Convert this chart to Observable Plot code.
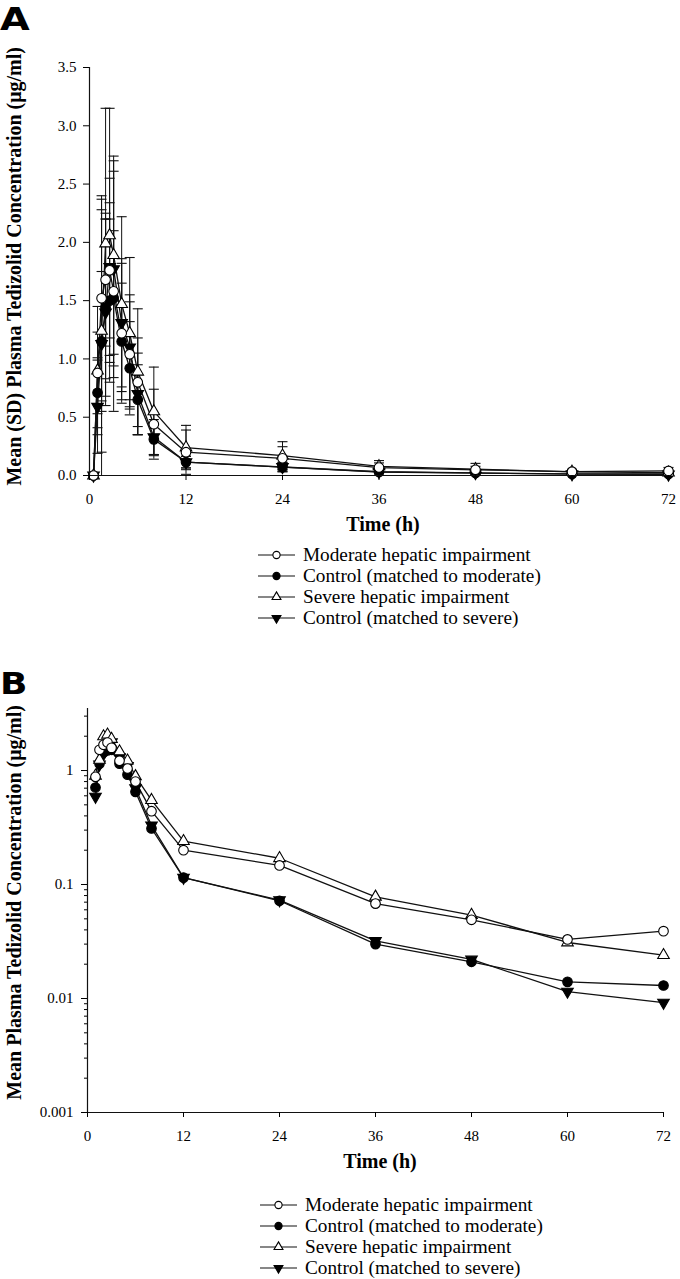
<!DOCTYPE html>
<html><head><meta charset="utf-8">
<script src="https://cdn.jsdelivr.net/npm/d3@7"></script>
<script src="https://cdn.jsdelivr.net/npm/@observablehq/plot@0.6"></script>
<style>
body{margin:0;background:#fff;}
#wrap{position:relative;width:680px;height:1279px;overflow:hidden;background:#fff;}
#wrap > svg{position:absolute;left:0;}
#wrap svg, #wrap svg text{font-family:"Liberation Serif","Times New Roman",serif !important;}
#wrap svg text.letter{font-family:"DejaVu Sans","Liberation Sans",Arial,sans-serif !important;}
</style></head><body><div id="wrap"></div>
<script>
// ---- data ----
const times = [0.5, 1, 1.5, 2, 2.5, 3, 4, 5, 6, 8, 12, 24, 36, 48, 60, 72];
const seriesNames = ["Moderate hepatic impairment", "Control (matched to moderate)", "Severe hepatic impairment", "Control (matched to severe)"];
const moderateMean = [0, 0.88, 1.52, 1.68, 1.76, 1.58, 1.22, 1.04, 0.80, 0.44, 0.20, 0.147, 0.068, 0.049, 0.033, 0.039];
const moderateSD   = [0, 0.35, 0.88, 0.57, 0.58, 1.03, 0.60, 0.45, 0.38, 0.30, 0.19, 0.10, 0.04, 0.03, 0.02, 0.03];
const ctrlModMean  = [0, 0.71, 1.15, 1.44, 1.50, 1.52, 1.15, 0.92, 0.65, 0.31, 0.115, 0.072, 0.030, 0.021, 0.014, 0.013];
const ctrlModSD    = [0, 0.30, 0.60, 0.76, 0.70, 0.58, 0.50, 0.40, 0.30, 0.13, 0.05, 0.04, 0.015, 0.01, 0.008, 0.008];
const severeMean   = [0, 0.90, 1.24, 1.99, 2.06, 1.89, 1.47, 1.22, 0.89, 0.55, 0.24, 0.17, 0.078, 0.054, 0.031, 0.024];
const severeSD     = [0, 0.55, 1.04, 1.16, 1.09, 0.85, 0.75, 0.65, 0.54, 0.38, 0.19, 0.12, 0.05, 0.05, 0.02, 0.02];
const ctrlSevMean  = [0, 0.59, 1.13, 1.40, 1.79, 1.77, 1.31, 1.10, 0.70, 0.33, 0.115, 0.073, 0.032, 0.022, 0.0115, 0.0092];
const ctrlSevSD    = [0, 0.40, 1.24, 0.80, 0.76, 0.93, 0.55, 0.45, 0.35, 0.15, 0.05, 0.04, 0.015, 0.01, 0.008, 0.006];
const xTicks = [0, 12, 24, 36, 48, 60, 72];
const yTicksLinear = [0, 0.5, 1, 1.5, 2, 2.5, 3, 3.5];
const yTicksLog = [0.001, 0.01, 0.1, 1];
const yTickLogLabels = ["0.001", "0.01", "0.1", "1"];

// ---- symbols ----
const sqrt3 = Math.sqrt(3);
const triDown = {draw(ctx, size){ const y = Math.sqrt(size / (sqrt3 * 3)); ctx.moveTo(0, y * 2); ctx.lineTo(-sqrt3 * y, -y); ctx.lineTo(sqrt3 * y, -y); ctx.closePath(); }};
const capSym = {draw(ctx){ ctx.moveTo(-5, 0); ctx.lineTo(5, 0); }};

const means = [moderateMean, ctrlModMean, severeMean, ctrlSevMean];
const sds = [moderateSD, ctrlModSD, severeSD, ctrlSevSD];
const styles = [
  {symbol: "circle", fill: "white", r: 4.8},
  {symbol: "circle", fill: "black", r: 4.8},
  {symbol: "triangle", fill: "white", r: 4.3},
  {symbol: triDown, fill: "black", r: 4.3}
];
const rows = [];
seriesNames.forEach((s, k) => times.forEach((t, i) => rows.push({series: s, k, t, mean: means[k][i], sd: sds[k][i]})));

const FONT = "Liberation Serif";
const INK = "#111";
const drawOrder = [3, 1, 2, 0];

function seriesDots(data) {
  return drawOrder.map(k => Plot.dot(data.filter(d => d.k === k), {
    x: "t", y: "mean", symbol: styles[k].symbol, fill: styles[k].fill, stroke: "black", strokeWidth: 1.1, r: styles[k].r
  }));
}

// ---- Panel A (linear) ----
const plotA = Plot.plot({
  width: 680, height: 520, marginTop: 67, marginBottom: 45, marginLeft: 89, marginRight: 12,
  x: {domain: [0, 72]}, y: {domain: [0, 3.5]},
  style: {fontFamily: FONT, fontSize: "15px", color: "black", background: "transparent", overflow: "visible"},
  marks: [
    Plot.ruleX(rows, {x: "t", y1: d => Math.max(0, d.mean - d.sd), y2: d => d.mean + d.sd, stroke: INK, strokeWidth: 1}),
    Plot.dot(rows, {x: "t", y: d => d.mean + d.sd, symbol: capSym, stroke: INK, strokeWidth: 1.1, fill: "none"}),
    Plot.dot(rows.filter(d => d.mean - d.sd > 0), {x: "t", y: d => d.mean - d.sd, symbol: capSym, stroke: INK, strokeWidth: 1.1, fill: "none"}),
    Plot.line(rows, {x: "t", y: "mean", z: "series", stroke: INK, strokeWidth: 1.3}),
    ...seriesDots(rows),
    Plot.ruleX([0], {stroke: INK, strokeWidth: 1.2}),
    Plot.ruleY([0], {stroke: INK, strokeWidth: 1.2}),
    Plot.axisX({ticks: xTicks, tickSize: 5, tickPadding: 13, label: null, tickFormat: d3.format("d"), fontSize: 15}),
    Plot.axisY({ticks: yTicksLinear, tickFormat: d3.format(".1f"), tickSize: 6, tickPadding: 7, label: null, fontSize: 15})
  ]
});
plotA.style.top = "0px";

// ---- Panel B (log) ----
const rowsB = rows.filter(d => d.mean > 0);
const minorTicks = [];
for (const e of [-3, -2, -1, 0]) for (let m = 2; m <= 9; m++) { const v = m * Math.pow(10, e); if (v <= 3.5) minorTicks.push(+v.toPrecision(3)); }
const plotB = Plot.plot({
  width: 680, height: 520, marginTop: 68, marginBottom: 48, marginLeft: 87, marginRight: 17,
  x: {domain: [0, 72]}, y: {type: "log", domain: [0.001, 3.5]},
  style: {fontFamily: FONT, fontSize: "15px", color: "black", background: "transparent", overflow: "visible"},
  marks: [
    Plot.line(rowsB, {x: "t", y: "mean", z: "series", stroke: INK, strokeWidth: 1.3}),
    ...seriesDots(rowsB),
    Plot.ruleX([0], {stroke: INK, strokeWidth: 1.2}),
    Plot.ruleY([0.001], {stroke: INK, strokeWidth: 1.2}),
    Plot.axisX({ticks: xTicks, tickSize: 5, tickPadding: 13, label: null, tickFormat: d3.format("d"), fontSize: 15}),
    Plot.axisY({ticks: yTicksLog, tickFormat: d => yTickLogLabels[yTicksLog.indexOf(d)], tickSize: 6, tickPadding: 8, label: null, fontSize: 15}),
    Plot.axisY({ticks: minorTicks, tickSize: 3, fill: "none", label: null})
  ]
});
plotB.style.top = "640px";

const wrap = document.getElementById("wrap");
wrap.appendChild(plotA);
wrap.appendChild(plotB);

// ---- overlay: panel letters, axis titles, legends ----
const ov = d3.select(wrap).append("svg").attr("width", 680).attr("height", 1279).style("top", "0px").style("pointer-events", "none");
function letter(txt, x, y, fs) {
  ov.append("text").attr("class", "letter").attr("transform", `translate(${x},${y}) scale(1.2,1)`)
    .attr("font-weight", "bold").attr("font-size", fs).text(txt);
}
letter("A", 0, 30, 32);
letter("B", 0, 694, 30);
function ytitle(txt, x, yTop) {
  ov.append("text").attr("transform", `translate(${x},${yTop}) rotate(-90)`).attr("text-anchor", "end")
    .attr("font-weight", "bold").attr("font-size", 20).text(txt);
}
ytitle("Mean (SD) Plasma Tedizolid Concentration (\u03bcg/ml)", 21, 47);
ytitle("Mean Plasma Tedizolid Concentration (\u03bcg/ml)", 21, 705);
function xtitle(x, y) {
  ov.append("text").attr("x", x).attr("y", y).attr("text-anchor", "middle").attr("font-weight", "bold").attr("font-size", 20).text("Time (h)");
}
xtitle(383, 531);
xtitle(380, 1168);
const legSym = [
  {type: d3.symbolCircle, fill: "white", size: Math.PI * 3.6 * 3.6},
  {type: d3.symbolCircle, fill: "black", size: Math.PI * 3.6 * 3.6},
  {type: d3.symbolTriangle, fill: "white", size: Math.PI * 3.3 * 3.3},
  {type: triDown, fill: "black", size: Math.PI * 3.3 * 3.3}
];
function legend(x0, y0) {
  seriesNames.forEach((name, k) => {
    const cy = y0 + k * 21;
    ov.append("line").attr("x1", x0).attr("x2", x0 + 37).attr("y1", cy).attr("y2", cy).attr("stroke", INK).attr("stroke-width", 1.2);
    ov.append("path").attr("d", d3.symbol(legSym[k].type, legSym[k].size)()).attr("transform", `translate(${x0 + 18.5},${cy})`)
      .attr("fill", legSym[k].fill).attr("stroke", "black").attr("stroke-width", 1.1);
    ov.append("text").attr("transform", `translate(${x0 + 45},${cy + 6}) scale(1.07,1)`).attr("font-size", 18).text(name);
  });
}
legend(258, 555);
legend(260, 1205);
</script></body></html>
